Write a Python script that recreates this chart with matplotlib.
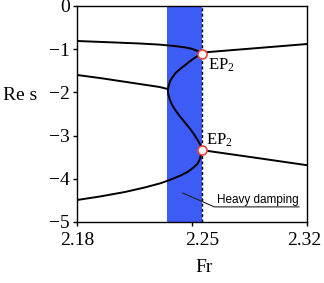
import matplotlib
matplotlib.use("Agg")
import matplotlib.pyplot as plt
import matplotlib.transforms as mtransforms

plt.rcParams['font.family'] = ['Liberation Serif', 'DejaVu Serif']
plt.rcParams['mathtext.fontset'] = 'custom'
plt.rcParams['mathtext.rm'] = 'Liberation Serif'
plt.rcParams['mathtext.it'] = 'Liberation Serif:italic'

# ---- data ----
ep_x = 2.2558
band_left = 2.2345
ep_upper_y = -1.104
ep_lower_y = -3.333

upper_left_x = [2.18, 2.2000, 2.2182, 2.2303, 2.2394, 2.2455, 2.2497, 2.2527, 2.2548, ep_x]
upper_left_y = [-0.810, -0.840, -0.868, -0.894, -0.926, -0.956, -0.988, -1.030, -1.069, ep_upper_y]

upper_right_x = [ep_x, 2.2586, 2.28, 2.30, 2.32]
upper_right_y = [ep_upper_y, -1.07, -1.004, -0.942, -0.88]

second_left_x = [2.18, 2.1939, 2.2121, 2.2242, 2.2303, 2.2350]
second_left_y = [-1.597, -1.667, -1.771, -1.840, -1.875, -1.920]

c_curve_x = [ep_x, 2.2539, 2.2515, 2.2485, 2.2455, 2.2424, 2.2400, 2.2382, 2.2367,
             2.2358, 2.2353, 2.2355, 2.2364, 2.2376, 2.2394, 2.2418, 2.2442, 2.2467,
             2.2491, 2.2515, 2.2536, 2.2552, ep_x]
c_curve_y = [ep_upper_y, -1.146, -1.204, -1.285, -1.377, -1.470, -1.551, -1.644, -1.736,
             -1.840, -1.944, -2.037, -2.153, -2.269, -2.384, -2.512, -2.627, -2.743,
             -2.859, -2.986, -3.113, -3.218, ep_lower_y]

lower_left_x = [2.18, 2.1939, 2.2091, 2.2212, 2.2303, 2.2364, 2.2424, 2.2473, 2.2509,
                2.2533, 2.2548, 2.2555, ep_x]
lower_left_y = [-4.491, -4.410, -4.306, -4.201, -4.109, -4.028, -3.935, -3.843, -3.738,
                -3.657, -3.542, -3.426, ep_lower_y]

lower_right_x = [ep_x, 2.2586, 2.29, 2.32]
lower_right_y = [ep_lower_y, -3.35, -3.52, -3.685]

xticks = [2.18, 2.25, 2.32]
xtick_labels = ['2.18', '2.25', '2.32']
yticks = [0, -1, -2, -3, -4, -5]
ytick_labels = ['0', '\u22121', '\u22122', '\u22123', '\u22124', '\u22125']

# ---- figure ----
fig = plt.figure(figsize=(3.24, 2.83), dpi=100)
ax = fig.add_axes([77/324, 1-222/283, 230/324, 216/283])

ax.axvspan(band_left, ep_x, color='#3D5CF6', lw=0, zorder=1)
ax.axvline(ep_x, color='black', lw=1.0, ls=(0, (2.2, 1.6)), zorder=2)

for xs, ys in [(upper_left_x, upper_left_y), (upper_right_x, upper_right_y),
               (second_left_x, second_left_y), (c_curve_x, c_curve_y),
               (lower_left_x, lower_left_y), (lower_right_x, lower_right_y)]:
    ax.plot(xs, ys, color='black', lw=1.4, zorder=3, solid_joinstyle='round',
            solid_capstyle='round')

ax.plot([ep_x, ep_x], [ep_upper_y, ep_lower_y], 'o', ms=6.5, mfc='white',
        mec='#F04040', mew=1.2, zorder=5, clip_on=False)

ax.text(2.2595, -1.48, r'$\mathrm{EP}_2$', fontsize=12, ha='left', va='baseline', zorder=6)
ax.text(2.2585, -3.20, r'$\mathrm{EP}_2$', fontsize=12, ha='left', va='baseline', zorder=6)

# Heavy damping annotation
ax.plot([2.2444, 2.2636, 2.3151], [-4.33, -4.65, -4.65], color='#222222', lw=0.8, zorder=4)
ax.text(2.2650, -4.56, 'Heavy damping', fontsize=8.5, family=['Liberation Sans', 'DejaVu Sans'],
        ha='left', va='baseline', zorder=6)

ax.set_xlim(2.18, 2.32)
ax.set_ylim(-5, 0)
ax.set_xticks(xticks)
ax.set_xticklabels(xtick_labels)
ax.set_yticks(yticks)
ax.set_yticklabels(ytick_labels)
ax.tick_params(direction='out', length=3, width=1, labelsize=14, pad=2, colors='black')
ax.tick_params(axis='x', pad=4)
for s in ax.spines.values():
    s.set_linewidth(1.0)
    s.set_color('black')

# shift the x tick labels to match reference placement
offs = [0, 10, -3]
for lab, dx in zip(ax.get_xticklabels(), offs):
    lab.set_transform(lab.get_transform() + mtransforms.ScaledTranslation(dx/100, 0, fig.dpi_scale_trans))

fig.text(204/324, 1-268/283, 'Fr', fontsize=14, ha='center', va='center')
fig.text(20/324, 1-96/283, 'Re s', fontsize=14, ha='center', va='center')

fig.savefig('out.png', dpi=100)
